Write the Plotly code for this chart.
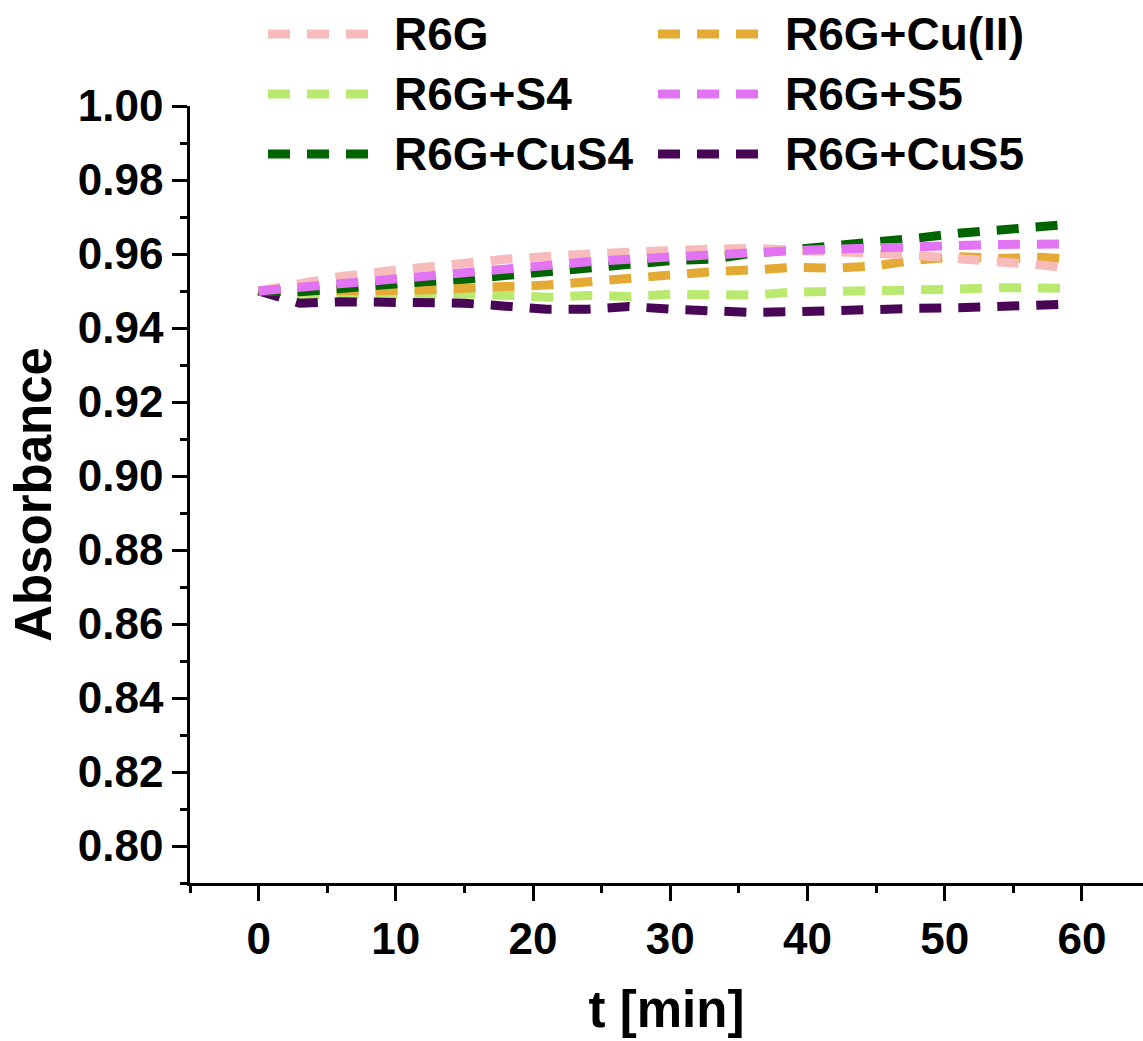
import plotly.graph_objects as go

# Time points (min) and absorbance readings for each sample
t_min = [0, 3, 6, 9, 12, 15, 18, 21, 24, 27, 30, 33, 36, 39, 42, 45, 48, 51, 54, 57, 59]

abs_r6g = [0.9500, 0.9521, 0.9539, 0.9552, 0.9566, 0.9575, 0.9586, 0.9595, 0.9600, 0.9605,
           0.9611, 0.9613, 0.9615, 0.9612, 0.9608, 0.9602, 0.9596, 0.9589, 0.9581, 0.9570, 0.9563]
abs_r6g_cu = [0.9500, 0.9499, 0.9498, 0.9501, 0.9503, 0.9510, 0.9512, 0.9516, 0.9525, 0.9536,
              0.9546, 0.9552, 0.9557, 0.9564, 0.9562, 0.9568, 0.9584, 0.9593, 0.9588, 0.9591, 0.9586]
abs_r6g_s4 = [0.9500, 0.9489, 0.9489, 0.9491, 0.9489, 0.9492, 0.9488, 0.9483, 0.9488, 0.9485,
              0.9491, 0.9489, 0.9489, 0.9497, 0.9498, 0.9501, 0.9505, 0.9505, 0.9509, 0.9505, 0.9507]
abs_r6g_s5 = [0.9500, 0.9510, 0.9525, 0.9534, 0.9545, 0.9554, 0.9563, 0.9572, 0.9579, 0.9586,
              0.9593, 0.9597, 0.9606, 0.9609, 0.9613, 0.9618, 0.9620, 0.9623, 0.9626, 0.9627, 0.9627]
abs_r6g_cus4 = [0.9500, 0.9498, 0.9507, 0.9519, 0.9525, 0.9532, 0.9541, 0.9550, 0.9557, 0.9572,
                0.9582, 0.9586, 0.9602, 0.9611, 0.9626, 0.9633, 0.9643, 0.9656, 0.9665, 0.9674, 0.9680]
abs_r6g_cus5 = [0.9500, 0.9467, 0.9471, 0.9471, 0.9469, 0.9467, 0.9459, 0.9451, 0.9451, 0.9458,
                0.9451, 0.9444, 0.9442, 0.9444, 0.9449, 0.9451, 0.9453, 0.9455, 0.9459, 0.9462, 0.9464]

names = ["R6G", "R6G+Cu(II)", "R6G+S4", "R6G+S5", "R6G+CuS4", "R6G+CuS5"]
colors = {
    "R6G": "#F8BBBB",
    "R6G+Cu(II)": "#E3AA35",
    "R6G+S4": "#B9E96F",
    "R6G+S5": "#E274F3",
    "R6G+CuS4": "#006400",
    "R6G+CuS5": "#4A0656",
}
values = {
    "R6G": abs_r6g,
    "R6G+Cu(II)": abs_r6g_cu,
    "R6G+S4": abs_r6g_s4,
    "R6G+S5": abs_r6g_s5,
    "R6G+CuS4": abs_r6g_cus4,
    "R6G+CuS5": abs_r6g_cus5,
}
# drawing order, bottom to top
draw_order = ["R6G+S4", "R6G+CuS5", "R6G+Cu(II)", "R6G+CuS4", "R6G", "R6G+S5"]

W, H = 1143, 1041
ML, MR, MT, MB = 190, 0, 106, 158
PW, PH = W - ML - MR, H - MT - MB

FONT = "Liberation Sans, Arial, sans-serif"
DASH = "22px,17px"
LW = 9

fig = go.Figure()
for n in draw_order:
    fig.add_trace(go.Scatter(
        x=t_min, y=values[n], name=n, mode="lines",
        line=dict(color=colors[n], width=LW, dash=DASH),
        showlegend=False,
    ))


def px_x(px):
    return (px - ML) / PW


def px_y(py):
    return (H - MB - py) / PH


# hand-placed two-column key above the axes
key_rows = [("R6G", "R6G+Cu(II)"), ("R6G+S4", "R6G+S5"), ("R6G+CuS4", "R6G+CuS5")]
row_y = [34, 94, 154]
col_swatch = [(268, 368), (658, 760)]
col_text = [392, 783]

shapes = []
annotations = []
for r, pair in enumerate(key_rows):
    for c, n in enumerate(pair):
        x0, x1 = col_swatch[c]
        shapes.append(dict(
            type="line", xref="paper", yref="paper",
            x0=px_x(x0), x1=px_x(x1), y0=px_y(row_y[r]), y1=px_y(row_y[r]),
            line=dict(color=colors[n], width=LW, dash=DASH),
        ))
        annotations.append(dict(
            text=n, xref="paper", yref="paper",
            x=px_x(col_text[c]), y=px_y(row_y[r]),
            xanchor="left", yanchor="middle", showarrow=False,
            font=dict(family=FONT, size=46, color="black", weight="bold"),
        ))

axis_common = dict(
    showline=True, linecolor="black", linewidth=2.5,
    ticks="outside", ticklen=15, tickwidth=2.5, tickcolor="black",
    showgrid=False, zeroline=False, mirror=False,
    tickfont=dict(family=FONT, size=44, color="black", weight="bold"),
    title_font=dict(family=FONT, size=51, color="black", weight="bold"),
)

fig.update_layout(
    width=W, height=H,
    margin=dict(l=ML, r=MR, t=MT, b=MB, autoexpand=False),
    paper_bgcolor="white", plot_bgcolor="white",
    showlegend=False,
    shapes=shapes, annotations=annotations,
    xaxis=dict(
        axis_common,
        range=[-5, 64.45], tick0=0, dtick=10,
        minor=dict(dtick=5, ticklen=7, tickwidth=2.5, tickcolor="black", ticks="outside"),
        title=dict(text="t [min]", standoff=30),
    ),
    yaxis=dict(
        axis_common,
        range=[0.79, 1.0], tick0=0.8, dtick=0.02, tickformat=".2f",
        minor=dict(dtick=0.01, ticklen=7, tickwidth=2.5, tickcolor="black", ticks="outside"),
        title=dict(text="Absorbance", standoff=10),
    ),
)

fig.write_html("out.html")
